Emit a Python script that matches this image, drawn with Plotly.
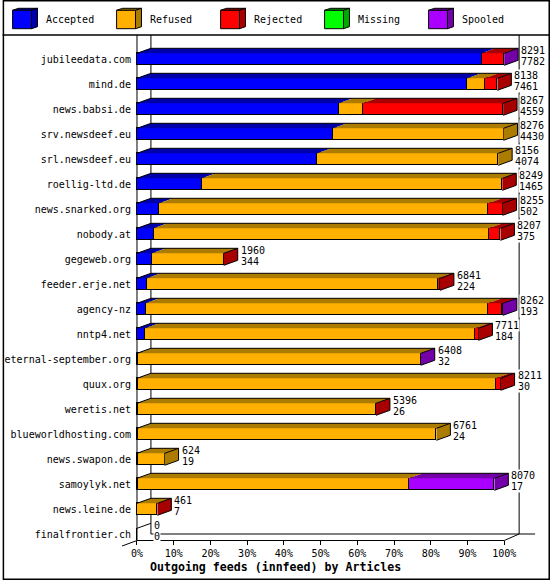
import plotly.graph_objects as go

hosts = ["jubileedata.com", "mind.de", "news.babsi.de", "srv.newsdeef.eu", "srl.newsdeef.eu",
         "roellig-ltd.de", "news.snarked.org", "nobody.at", "gegeweb.org", "feeder.erje.net",
         "agency-nz", "nntp4.net", "eternal-september.org", "quux.org", "weretis.net",
         "blueworldhosting.com", "news.swapon.de", "samoylyk.net", "news.leine.de", "finalfrontier.ch"]
total = [8291, 8138, 8267, 8276, 8156, 8249, 8255, 8207, 1960, 6841,
         8262, 7711, 6408, 8211, 5396, 6761, 624, 8070, 461, 0]
accepted = [7782, 7461, 4559, 4430, 4074, 1465, 502, 375, 344, 224,
            193, 184, 32, 30, 26, 24, 19, 17, 7, 0]
refused = [0, 390, 540, 3846, 4082, 6769, 7430, 7569, 1610, 6572,
           7736, 7452, 6371, 8069, 5365, 6737, 605, 6130, 449, 0]
rejected = [500, 287, 3168, 0, 0, 15, 323, 263, 6, 45,
            323, 75, 0, 112, 5, 0, 0, 0, 5, 0]
missing = [0, 0, 0, 0, 0, 0, 0, 0, 0, 0,
           0, 0, 0, 0, 0, 0, 0, 0, 0, 0]
spooled = [9, 0, 0, 0, 0, 0, 0, 0, 0, 0,
           10, 0, 5, 0, 0, 0, 0, 1923, 0, 0]
series_names = ["Accepted", "Refused", "Rejected", "Missing", "Spooled"]
tick_values = [0, 10, 20, 30, 40, 50, 60, 70, 80, 90, 100]
tick_labels = ["0%", "10%", "20%", "30%", "40%", "50%", "60%", "70%", "80%", "90%", "100%"]
x_title = "Outgoing feeds (innfeed) by Articles"

front_colors = ["#0000ff", "#ffb000", "#ff0000", "#00ff00", "#aa00ff"]
dark_colors = ["#0000a8", "#ac7c00", "#a80000", "#00a800", "#7400a8"]
FONT = "DejaVu Sans Mono"

W, H = 550, 580
L, R, T, B = 133, 5, 36, 40
PW, PH = W - L - R, H - T - B
X0PX, PXPCT = 135.0, 3.69
ROW0, ROWPX = 59.3, 25.0
DX = 14 / PXPCT
DY = 5 / ROWPX
BW = 0.48

series = [accepted, refused, rejected, missing, spooled]
n = len(hosts)
maxv = max(total)
rows = list(range(n))


def pct(v):
    return v / maxv * 100.0


def px(xp, yp):
    return (xp - L) / PW, (H - B - yp) / PH


fig = go.Figure()
for name, vals, col in zip(series_names, series, front_colors):
    fig.add_trace(go.Bar(
        y=rows, x=[pct(v) for v in vals], orientation="h", name=name,
        marker=dict(color=col, line=dict(color="black", width=1)),
        width=BW, showlegend=False, hoverinfo="skip"))

shapes = []


def pline(x0, y0, x1, y1, w=1):
    a0, b0 = px(x0, y0)
    a1, b1 = px(x1, y1)
    shapes.append(dict(type="line", xref="paper", yref="paper", x0=a0, y0=b0, x1=a1, y1=b1,
                       line=dict(color="black", width=w), layer="below"))


def ppoly(pts, fill, w=1, layer="above"):
    p = ""
    for k, (a, b) in enumerate(pts):
        xa, yb = px(a, b)
        p += ("M" if k == 0 else "L") + f"{xa:.5f},{yb:.5f} "
    p += "Z"
    shapes.append(dict(type="path", xref="paper", yref="paper", path=p, fillcolor=fill,
                       line=dict(color="black", width=w), layer=layer))


# back/front wall decorations
pline(135, 35, 135, 540.5)
pline(149, 35, 149, 534)
pline(519, 35, 519, 534)
pline(149, 534, 535, 534)
pline(135, 540.5, 504, 540.5)
pline(504, 540.5, 519, 534)
pline(120, 546, 135, 540.5)

# 3D faces of bars
for i in rows:
    yt, yb = i - BW / 2, i + BW / 2
    cum = 0.0
    last = None
    for k, vals in enumerate(series):
        v = vals[i]
        if v <= 0:
            continue
        a, b = pct(cum), pct(cum + v)
        path = (f"M{a},{yt} L{a + DX},{yt - DY} L{b + DX},{yt - DY} L{b},{yt} Z")
        shapes.append(dict(type="path", xref="x", yref="y", path=path,
                           fillcolor=dark_colors[k], line=dict(width=0), layer="above"))
        cum += v
        last = k
    xe = pct(cum)
    if last is not None:
        path = (f"M{xe},{yt} L{xe + DX},{yt - DY} L{xe + DX},{yb - DY} L{xe},{yb} Z")
        shapes.append(dict(type="path", xref="x", yref="y", path=path,
                           fillcolor=dark_colors[last], line=dict(width=0), layer="above"))
        outline = (f"M0,{yt} L{DX},{yt - DY} L{xe + DX},{yt - DY} L{xe + DX},{yb - DY} L{xe},{yb} "
                   f"M{xe},{yt} L{xe + DX},{yt - DY}")
    else:
        outline = f"M0,{yt} L{DX},{yt - DY}"
    shapes.append(dict(type="path", xref="x", yref="y", path=outline,
                       line=dict(color="black", width=1), layer="above"))

# legend
annotations = []
for k, name in enumerate(series_names):
    bx = 10 + 104.5 * k
    ppoly([(bx, 10.3), (bx + 6, 8.3), (bx + 25, 8.3), (bx + 19, 10.3)], dark_colors[k])
    ppoly([(bx + 19, 10.3), (bx + 25, 8.3), (bx + 25, 26.7), (bx + 19, 28.7)], dark_colors[k])
    ppoly([(bx, 10.3), (bx + 19, 10.3), (bx + 19, 28.7), (bx, 28.7)], front_colors[k])
    ax, ay = px(bx + 32, 19.5)
    annotations.append(dict(xref="paper", yref="paper", x=ax, y=ay, text=name, showarrow=False,
                            xanchor="left", yanchor="middle",
                            font=dict(family=FONT, size=10, color="black")))

# frame and separator
ppoly([(0.75, 0.75), (549.25, 0.75), (549.25, 579.25), (0.75, 579.25)], "rgba(0,0,0,0)", w=1.5, layer="below")
pline(0, 35, 550, 35, w=1.5)

# value labels
for i in rows:
    xe = pct(total[i]) + DX
    for txt, ys in ((str(total[i]), 8.5), (str(accepted[i]), -2.5)):
        annotations.append(dict(xref="x", yref="y", x=xe, y=i, text=txt, showarrow=False,
                                xanchor="left", yanchor="middle", xshift=2, yshift=ys,
                                bgcolor="white", borderpad=0,
                                font=dict(family=FONT, size=10, color="black")))

tx, ty = px(274.5, 566.5)
annotations.append(dict(xref="paper", yref="paper", x=tx, y=ty, text="<b>" + x_title + "</b>",
                        showarrow=False, xanchor="center", yanchor="middle",
                        font=dict(family=FONT, size=11.6, color="black")))

fig.update_layout(
    width=W, height=H, margin=dict(l=L, r=R, t=T, b=B),
    barmode="stack", bargap=0,
    paper_bgcolor="white", plot_bgcolor="rgba(0,0,0,0)",
    shapes=shapes, annotations=annotations, hovermode=False,
    xaxis=dict(range=[(L - X0PX) / PXPCT, (W - R - X0PX) / PXPCT], tickvals=tick_values,
               ticktext=tick_labels, ticks="outside", ticklen=4, tickcolor="black",
               showgrid=False, zeroline=False, showline=False, fixedrange=True,
               tickfont=dict(family=FONT, size=10, color="black")),
    yaxis=dict(range=[(H - B - ROW0) / ROWPX, (T - ROW0) / ROWPX], tickvals=rows,
               ticktext=hosts, ticks="", showgrid=False, zeroline=False, showline=False,
               ticklabelstandoff=3, fixedrange=True,
               tickfont=dict(family=FONT, size=10, color="black")),
)

fig.write_html("out.html", config={"displayModeBar": False},
               post_script="document.body.style.margin='0px';document.body.style.overflow='hidden';")
